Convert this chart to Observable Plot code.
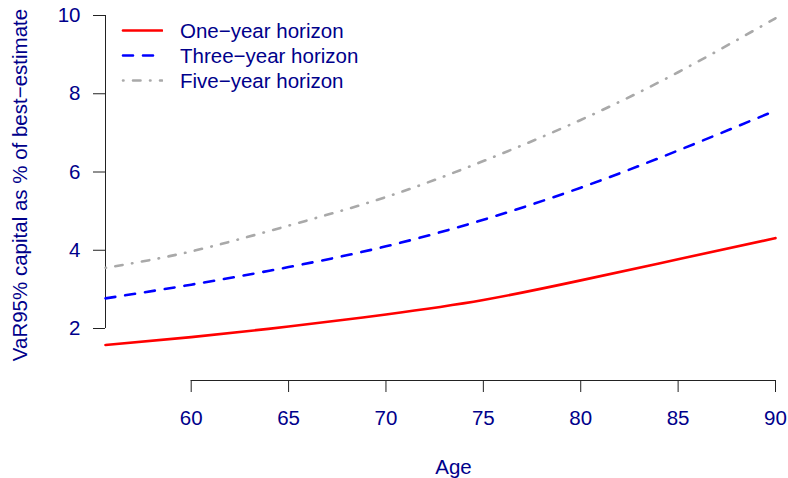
<!DOCTYPE html>
<html>
<head>
<meta charset="utf-8">
<script src="https://cdn.jsdelivr.net/npm/d3@7"></script>
<script src="https://cdn.jsdelivr.net/npm/@observablehq/plot@0.6"></script>
<style>
  html, body { margin: 0; padding: 0; background: #fff; }
  #wrap { position: relative; width: 788px; height: 478px; font-family: "Liberation Sans", Arial, Helvetica, sans-serif; }
  #legend { position: absolute; left: 118px; top: 18px; }
  .item { display: flex; align-items: center; height: 25px; color: #00008b; font-size: 20.5px; }
  .item svg { margin-right: 17px; }
</style>
</head>
<body>
<div id="wrap"><div id="legend"></div></div>
<script>
const ages = [55.6, 60, 65, 70, 75, 80, 85, 90];
const oneYear = [1.58, 1.78, 2.05, 2.36, 2.73, 3.23, 3.77, 4.31];
const threeYear = [2.77, 3.12, 3.57, 4.10, 4.78, 5.60, 6.55, 7.57];
const fiveYear = [3.55, 3.97, 4.63, 5.36, 6.28, 7.33, 8.55, 9.93];
const seriesNames = ["One\u2212year horizon", "Three\u2212year horizon", "Five\u2212year horizon"];
const seriesColors = ["#ff0000", "#0000ff", "#a9a9a9"];
const seriesDash = [null, "10,10", "0.5,9.5,7.5,9.5"];
const xTicks = [60, 65, 70, 75, 80, 85, 90];
const yTicks = [2, 4, 6, 8, 10];

const navy = "#00008b";
const fs = 20.5;
const yMin = 0.671;
const allSeries = [oneYear, threeYear, fiveYear];
const rows = allSeries.flatMap((vals, s) => vals.map((v, i) => ({age: ages[i], value: v, series: seriesNames[s], s})));

const lineMarks = allSeries.map((vals, s) =>
  Plot.line(rows.filter(d => d.s === s), {
    x: "age", y: "value", stroke: seriesColors[s], strokeWidth: 2.6,
    strokeDasharray: seriesDash[s] || undefined, curve: "natural", strokeLinecap: "round"
  })
);

const chart = Plot.plot({
  width: 788, height: 478,
  marginLeft: 105, marginRight: 13, marginTop: 15, marginBottom: 98,
  style: {fontFamily: '"Liberation Sans", Arial, Helvetica, sans-serif', fontSize: fs + "px", background: "#fff", overflow: "visible"},
  x: {domain: [ages[0], 90]},
  y: {domain: [yMin, 10]},
  marks: [
    Plot.axisX({ticks: xTicks, tickSize: 12, tickPadding: 18, stroke: "#222", fill: navy, fontSize: fs, label: null, tickFormat: d => String(d)}),
    Plot.axisY({ticks: yTicks, tickSize: 12, tickPadding: 13, stroke: "#222", fill: navy, fontSize: fs, label: null, tickFormat: d => String(d)}),
    Plot.ruleY([yMin], {x1: xTicks[0], x2: xTicks[xTicks.length - 1], stroke: "#222"}),
    Plot.ruleX([ages[0]], {y1: yTicks[0], y2: yTicks[yTicks.length - 1], stroke: "#222"}),
    ...lineMarks,
    Plot.text(["Age"], {frameAnchor: "bottom", dx: 13, dy: 87, lineAnchor: "middle", fill: navy, fontSize: fs}),
    Plot.text(["VaR95% capital as % of best\u2212estimate"], {frameAnchor: "left", rotate: -90, dx: -85, dy: -13, textAnchor: "middle", lineAnchor: "middle", fill: navy, fontSize: fs})
  ]
});
document.getElementById("wrap").prepend(chart);

const legend = d3.select("#legend");
seriesNames.forEach((name, s) => {
  const item = legend.append("div").attr("class", "item");
  const svg = item.append("svg").attr("width", 45).attr("height", 25);
  svg.append("line").attr("x1", 5).attr("x2", 44).attr("y1", 12.5).attr("y2", 12.5)
    .attr("stroke", seriesColors[s]).attr("stroke-width", 2.6).attr("stroke-linecap", "round")
    .attr("stroke-dasharray", seriesDash[s]);
  item.append("span").text(name);
});
</script>
</body>
</html>
